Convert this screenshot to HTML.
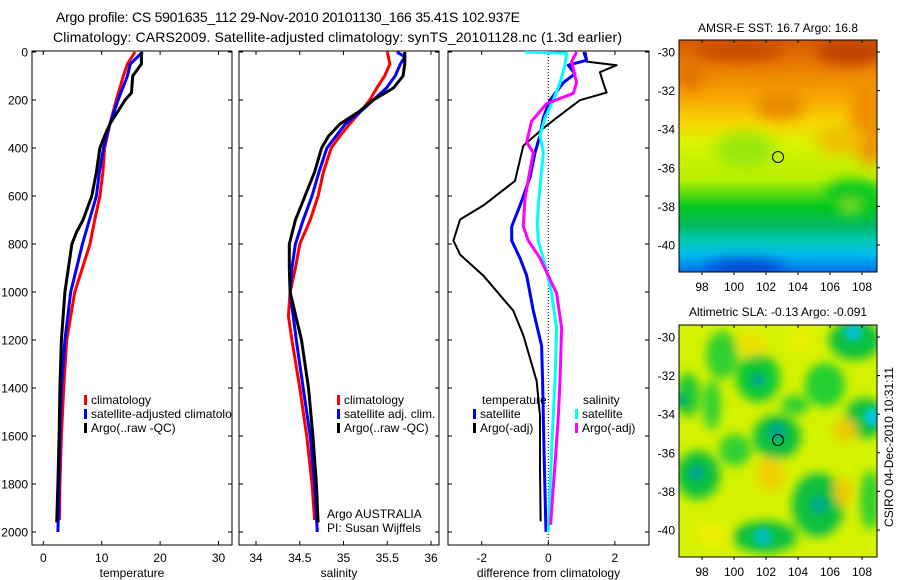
<!DOCTYPE html>
<html><head><meta charset="utf-8"><style>
body{margin:0;background:#fff;}
svg{display:block;font-family:"Liberation Sans",sans-serif;}
text{fill:#000;}
</style></head><body>
<svg id="fig" width="900" height="580" viewBox="0 0 900 580" xmlns="http://www.w3.org/2000/svg">
<defs>
<filter id="bl" x="-50%" y="-50%" width="200%" height="200%"><feGaussianBlur stdDeviation="7"/></filter>
<filter id="bl3" x="-50%" y="-50%" width="200%" height="200%"><feGaussianBlur stdDeviation="5"/></filter>
<filter id="bl2" x="-50%" y="-50%" width="200%" height="200%"><feGaussianBlur stdDeviation="3.5"/></filter>
<linearGradient id="sstg" x1="0" y1="0" x2="0" y2="1">
<stop offset="0" stop-color="#d85a00"/><stop offset="0.1" stop-color="#e87800"/><stop offset="0.25" stop-color="#f8a800"/>
<stop offset="0.36" stop-color="#f8d800"/><stop offset="0.45" stop-color="#d8f400"/><stop offset="0.6" stop-color="#b8f000"/>
<stop offset="0.66" stop-color="#60dc10"/><stop offset="0.72" stop-color="#00c820"/><stop offset="0.8" stop-color="#00b860"/>
<stop offset="0.86" stop-color="#00c8b0"/><stop offset="0.92" stop-color="#00c0e8"/><stop offset="1" stop-color="#0070f0"/>
</linearGradient>
<clipPath id="c1"><rect x="679" y="40" width="198" height="232"/></clipPath>
<clipPath id="c2"><rect x="679" y="325" width="198" height="232"/></clipPath>
<clipPath id="pc1"><rect x="32" y="51" width="200" height="494"/></clipPath>
<clipPath id="pc2"><rect x="239" y="51" width="200" height="494"/></clipPath>
<clipPath id="pc3"><rect x="448" y="51" width="201" height="494"/></clipPath>
</defs>
<text x="56" y="22" font-size="14" textLength="464">Argo profile: CS 5901635_112 29-Nov-2010 20101130_166 35.41S 102.937E</text>
<text x="53" y="42" font-size="14" textLength="569">Climatology: CARS2009. Satellite-adjusted climatology: synTS_20101128.nc (1.3d earlier)</text>

<g clip-path="url(#c1)">
<rect x="679" y="40" width="198" height="232" fill="url(#sstg)"/>
<g filter="url(#bl)">
<ellipse cx="740" cy="50" rx="45" ry="10" fill="#c84800"/>
<ellipse cx="850" cy="52" rx="35" ry="12" fill="#c04000"/>
<ellipse cx="870" cy="120" rx="20" ry="45" fill="#f09000"/>
<ellipse cx="780" cy="105" rx="25" ry="15" fill="#e88a00"/>
<ellipse cx="690" cy="75" rx="12" ry="15" fill="#e07000"/>
<ellipse cx="745" cy="150" rx="30" ry="18" fill="#98e810"/>
<ellipse cx="840" cy="140" rx="25" ry="15" fill="#f0c000"/>
<ellipse cx="853" cy="195" rx="28" ry="15" fill="#00c820"/>
<ellipse cx="850" cy="208" rx="8" ry="6" fill="#a8e820"/>
<ellipse cx="745" cy="268" rx="40" ry="8" fill="#0040d0"/>
</g>
<circle cx="778" cy="157" r="5.5" fill="none" stroke="#000" stroke-width="1"/>
</g>
<rect x="679" y="40" width="198" height="232" fill="none" stroke="#000"/>
<text x="778" y="32" font-size="12" text-anchor="middle">AMSR-E SST: 16.7 Argo: 16.8</text>

<g clip-path="url(#c2)">
<rect x="679" y="325" width="198" height="232" fill="#d4f200"/>
<g filter="url(#bl3)">
<ellipse cx="722" cy="355" rx="16" ry="24" fill="#30d030"/>
<ellipse cx="758" cy="378" rx="22" ry="24" fill="#10c838"/>
<ellipse cx="688" cy="395" rx="12" ry="22" fill="#20c838"/>
<ellipse cx="712" cy="405" rx="9" ry="25" fill="#30d030"/>
<ellipse cx="777" cy="437" rx="24" ry="22" fill="#10c040"/>
<ellipse cx="825" cy="385" rx="20" ry="22" fill="#20d030"/>
<ellipse cx="795" cy="405" rx="14" ry="10" fill="#30d030"/>
<ellipse cx="855" cy="340" rx="26" ry="20" fill="#10c040"/>
<ellipse cx="865" cy="418" rx="20" ry="20" fill="#10c040"/>
<ellipse cx="698" cy="475" rx="22" ry="24" fill="#10c040"/>
<ellipse cx="818" cy="505" rx="26" ry="32" fill="#10c040"/>
<ellipse cx="765" cy="537" rx="32" ry="16" fill="#10c040"/>
<ellipse cx="735" cy="450" rx="16" ry="16" fill="#30d030"/>
<ellipse cx="870" cy="500" rx="10" ry="30" fill="#30d030"/>
<ellipse cx="752" cy="345" rx="16" ry="11" fill="#f0e000"/>
<ellipse cx="770" cy="475" rx="14" ry="17" fill="#f0d000"/>
<ellipse cx="845" cy="430" rx="12" ry="11" fill="#f0c800"/>
<ellipse cx="843" cy="492" rx="9" ry="14" fill="#f0c800"/>
<ellipse cx="712" cy="535" rx="16" ry="11" fill="#f0f000"/>
<ellipse cx="800" cy="340" rx="14" ry="11" fill="#e8f000"/>
</g>
<g filter="url(#bl2)">
<circle cx="758" cy="380" r="7" fill="#00a890"/>
<circle cx="777" cy="432" r="9" fill="#00a890"/>
<circle cx="853" cy="332" r="9" fill="#00c0d0"/>
<circle cx="873" cy="417" r="9" fill="#00c8e0"/>
<circle cx="697" cy="473" r="8" fill="#00a890"/>
<circle cx="819" cy="505" r="9" fill="#00a890"/>
<circle cx="763" cy="537" r="9" fill="#00c0c0"/>
<circle cx="681" cy="400" r="6" fill="#00a870"/>
</g>
<circle cx="778" cy="440" r="5.5" fill="none" stroke="#000" stroke-width="1"/>
</g>
<rect x="679" y="325" width="198" height="232" fill="none" stroke="#000"/>
<text x="778" y="316" font-size="12" text-anchor="middle">Altimetric SLA: -0.13 Argo: -0.091</text>
<text transform="translate(893,447) rotate(-90)" font-size="12" text-anchor="middle">CSIRO 04-Dec-2010 10:31:11</text>
<g id="mapaxes"></g>
<g id="plots"></g>
</svg>
<script>
// depths (m)
const tDepth=[0,50,100,170,200,300,350,400,500,600,700,750,800,900,1000,1200,1400,1600,1800,1960];
const tArgo=[16.8,16.8,15.3,15.1,14.0,11.4,10.5,9.7,9.1,8.3,6.8,5.7,4.9,4.3,3.7,3.1,2.85,2.7,2.5,2.3];
const tDepthC=[0,50,100,200,300,400,500,600,700,800,900,1000,1200,1400,1600,1800,1950];
const tClim=[15.7,14.4,13.7,12.5,11.4,10.5,10.2,9.7,8.8,8.0,6.7,5.4,4.0,3.5,3.1,2.85,2.75];
const tDepthS=[0,50,100,200,300,400,500,600,700,800,900,1000,1200,1400,1600,1800,2000];
const tSat=[17.0,14.9,14.4,12.8,11.4,10.3,9.6,9.1,7.9,6.7,5.7,4.7,3.7,3.1,2.85,2.7,2.5];
const sDepthA=[0,50,100,150,200,250,300,350,400,500,600,700,800,900,1000,1200,1400,1600,1800,1960];
const sArgo=[35.70,35.70,35.68,35.57,35.34,35.17,34.96,34.83,34.75,34.67,34.56,34.45,34.38,34.38,34.39,34.52,34.60,34.65,34.69,34.71];
const sDepthC=[0,50,100,150,200,250,300,350,400,500,600,700,800,900,1000,1100,1200,1400,1600,1800,1950];
const sClim=[35.50,35.53,35.47,35.38,35.30,35.19,35.07,34.96,34.86,34.77,34.71,34.62,34.50,34.45,34.39,34.37,34.41,34.50,34.58,34.64,34.67];
const sDepthS=[0,20,50,100,150,200,250,300,400,500,600,700,800,900,1000,1200,1400,1600,1800,2000];
const sSat=[35.61,35.70,35.65,35.59,35.49,35.34,35.19,35.02,34.81,34.72,34.64,34.54,34.45,34.41,34.39,34.46,34.54,34.62,34.67,34.70];
const dDepthTA=[0,40,55,84,128,169,201,274,318,391,537,639,698,786,844,932,1078,1180,1370,1516,1736,1955];
const dTArgo=[1.05,1.15,2.05,1.55,1.65,1.75,0.95,0.25,-0.15,-0.75,-1.0,-1.95,-2.65,-2.85,-2.65,-1.95,-1.05,-0.75,-0.35,-0.25,-0.25,-0.23];
const dDepthTS=[0,34,55,91,128,201,274,347,420,523,639,727,786,859,932,1078,1224,1370,1662,1999];
const dTSat=[1.1,1.15,0.6,0.8,0.45,0.05,-0.15,-0.25,-0.4,-0.55,-0.85,-1.1,-1.1,-0.85,-0.65,-0.45,-0.2,-0.17,-0.13,-0.07];
const dDepthSS=[0,5,55,128,201,274,347,420,493,639,712,786,903,1005,1151,1370,1662,1999];
const dSSat=[-0.7,0.55,0.5,0.35,0.15,-0.1,-0.25,-0.15,-0.2,-0.3,-0.33,-0.3,-0.07,0.1,0.25,0.2,0.1,0.0];
const dDepthSA=[0,40,128,172,215,288,347,376,420,493,610,727,786,859,932,1005,1151,1370,1516,1662,1809,1970];
const dSArgo=[0.85,0.7,0.85,0.75,-0.05,-0.5,-0.6,-0.65,-0.45,-0.55,-0.7,-0.75,-0.6,-0.25,0.0,0.25,0.4,0.35,0.3,0.23,0.15,0.07];
const depthTicks=[0,200,400,600,800,1000,1200,1400,1600,1800,2000];
const tTicks=[0,10,20,30];
const sTicks=[34,34.5,35,35.5,36];
const dTicks=[-2,0,2];
const lonTicks=[98,100,102,104,106,108];
const latTicks=[-30,-32,-34,-36,-38,-40];

const NS='http://www.w3.org/2000/svg';
const plots=document.getElementById('plots');
const mapaxes=document.getElementById('mapaxes');
function el(tag,attrs,parent,txt){const e=document.createElementNS(NS,tag);for(const k in attrs)e.setAttribute(k,attrs[k]);if(txt!==undefined)e.textContent=txt;parent.appendChild(e);return e;}
const yD=d=>52+0.24*d;
const xT=t=>43.3+5.84*t;
const xS=s=>256+87.5*(s-34);
const xDf=v=>548.3+33.3*v;
const TOP=51,BOT=545;

function panel(name,x0,x1,xf,ticks,fmt,label,showY){
  const g=el('g',{},plots);
  
  
  el('rect',{x:x0,y:TOP,width:x1-x0,height:BOT-TOP,fill:'none',stroke:'#000','stroke-width':1},g);
  depthTicks.forEach(d=>{
    el('line',{x1:x0,x2:x0+4,y1:yD(d),y2:yD(d),stroke:'#000'},g);
    el('line',{x1:x1-4,x2:x1,y1:yD(d),y2:yD(d),stroke:'#000'},g);
    if(showY){const t=el('text',{x:28,y:yD(d)+4.5,'font-size':12,'text-anchor':'end'},g,String(d));
      }
  });
  ticks.forEach(v=>{
    el('line',{x1:xf(v),x2:xf(v),y1:BOT,y2:BOT-4,stroke:'#000'},g);
    el('line',{x1:xf(v),x2:xf(v),y1:TOP,y2:TOP+4,stroke:'#000'},g);
    const t=el('text',{x:xf(v),y:562,'font-size':12,'text-anchor':'middle'},g,fmt(v));
    
  });
  const xl=el('text',{x:(x0+x1)/2,y:577,'font-size':12,'text-anchor':'middle'},g,label);
  
  return g;
}
function line(g,depths,vals,xf,color,name,clip,w){
  const pts=depths.map((d,i)=>xf(vals[i]).toFixed(1)+','+yD(d).toFixed(1)).join(' ');
  const p=el('polyline',{points:pts,fill:'none',stroke:color,'stroke-width':w||3,'stroke-linejoin':'round','clip-path':clip},g);
  
  
}
function legend(g,x,y,color,txt,name){
  el('rect',{x:x,y:y-9,width:3,height:10,fill:color},g);
  const t=el('text',{x:x+7,y:y,'font-size':12},g,txt);
  
  
}
const g1=panel('temperature',32,232,xT,tTicks,v=>String(v),'temperature',true);
line(g1,tDepthC,tClim,xT,'#ff0000','temp-climatology-line','url(#pc1)');
line(g1,tDepthS,tSat,xT,'#0000ff','temp-satellite-line','url(#pc1)');
line(g1,tDepth,tArgo,xT,'#000000','temp-argo-line','url(#pc1)');
legend(g1,84,404,'#ff0000','climatology','legend-climatology');
legend(g1,84,418,'#0000ff','satellite-adjusted climatolo','legend-satellite');
legend(g1,84,432,'#000000','Argo(..raw -QC)','legend-argo');

const g2=panel('salinity',239,439,xS,sTicks,v=>String(v),'salinity',false);
line(g2,sDepthC,sClim,xS,'#ff0000','sal-climatology-line','url(#pc2)');
line(g2,sDepthS,sSat,xS,'#0000ff','sal-satellite-line','url(#pc2)');
line(g2,sDepthA,sArgo,xS,'#000000','sal-argo-line','url(#pc2)');
legend(g2,337,404,'#ff0000','climatology','legend-sal-climatology');
legend(g2,337,418,'#0000ff','satellite adj. clim.','legend-sal-satellite');
legend(g2,337,432,'#000000','Argo(..raw -QC)','legend-sal-argo');
const a1=el('text',{x:327,y:518,'font-size':12},g2,'Argo AUSTRALIA');

const a2=el('text',{x:327,y:532,'font-size':12},g2,'PI: Susan Wijffels');


const g3=panel('difference',448,649,xDf,dTicks,v=>String(v),'difference from climatology',false);
el('line',{x1:xDf(0),x2:xDf(0),y1:TOP,y2:BOT,stroke:'#000','stroke-dasharray':'1,2'},g3);
line(g3,dDepthTA,dTArgo,xDf,'#000000','diff-temp-argo-line','url(#pc3)',2);
line(g3,dDepthTS,dTSat,xDf,'#0000ff','diff-temp-satellite-line','url(#pc3)');
line(g3,dDepthSS,dSSat,xDf,'#00ffff','diff-sal-satellite-line','url(#pc3)');
line(g3,dDepthSA,dSArgo,xDf,'#ff00ff','diff-sal-argo-line','url(#pc3)');
const lt=el('text',{x:482,y:404,'font-size':12},g3,'temperature');

legend(g3,473,418,'#0000ff','satellite','legend-diff-temp-satellite');
legend(g3,473,432,'#000000','Argo(-adj)','legend-diff-temp-argo');
const ls=el('text',{x:583,y:404,'font-size':12},g3,'salinity');

legend(g3,575,418,'#00ffff','satellite','legend-diff-sal-satellite');
legend(g3,575,432,'#ff00ff','Argo(-adj)','legend-diff-sal-argo');

// map axes
function mapAx(top,h,latY,lonLabelY){
  const xL=lon=>702+16*(lon-98);
  lonTicks.forEach(l=>{
    el('line',{x1:xL(l),x2:xL(l),y1:top,y2:top+3,stroke:'#000'},mapaxes);
    el('line',{x1:xL(l),x2:xL(l),y1:top+h,y2:top+h+3,stroke:'#000'},mapaxes);
    const t=el('text',{x:xL(l),y:lonLabelY,'font-size':12,'text-anchor':'middle'},mapaxes,String(l));
    
  });
  latTicks.forEach(l=>{
    const y=latY(l);
    el('line',{x1:877,x2:880,y1:y,y2:y,stroke:'#000'},mapaxes);
    const t=el('text',{x:675,y:y+4.5,'font-size':12,'text-anchor':'end'},mapaxes,String(l));
    
  });
}
mapAx(40,232,l=>52+19.3*(-30-l),291);
mapAx(325,232,l=>337+19.3*(-30-l),576);
</script>
</body></html>
